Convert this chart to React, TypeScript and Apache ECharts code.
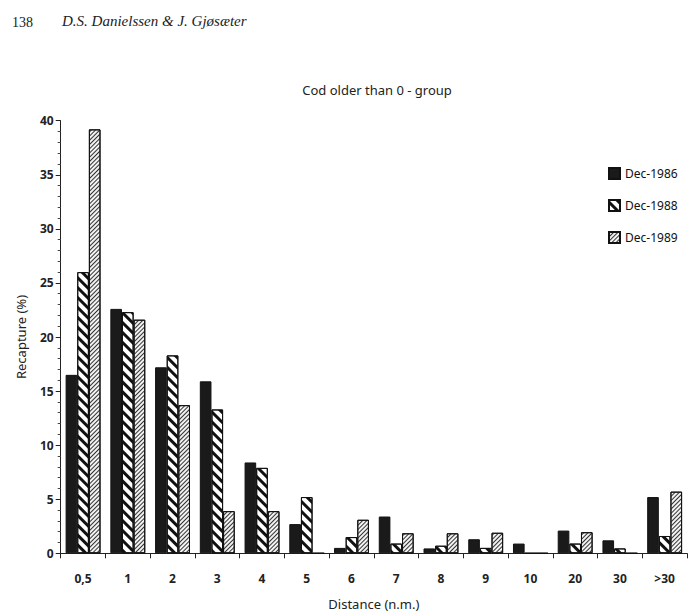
import React, { useEffect, useRef } from "react";
import * as echarts from "echarts";

const categories = ["0,5", "1", "2", "3", "4", "5", "6", "7", "8", "9", "10", "20", "30", ">30"];
const dec1986 = [16.5, 22.6, 17.2, 15.9, 8.4, 2.7, 0.5, 3.4, 0.45, 1.3, 0.9, 2.1, 1.2, 5.2];
const dec1988 = [26.0, 22.3, 18.3, 13.3, 7.9, 5.2, 1.5, 0.9, 0.7, 0.5, 0, 0.9, 0.45, 1.6];
const dec1989 = [39.2, 21.6, 13.7, 3.9, 3.9, 0, 3.1, 1.85, 1.85, 1.9, 0, 1.95, 0, 5.7];
const seriesNames = ["Dec-1986", "Dec-1988", "Dec-1989"];
const yTicks = { min: 0, max: 40, interval: 5 };

const FONT = "'Noto Sans', 'DejaVu Sans', sans-serif";

export default function App() {
  const ref = useRef<HTMLDivElement>(null);
  useEffect(() => {
    document.body.style.margin = "0";
    if (!ref.current) return;
    const chart = echarts.init(ref.current, null, { renderer: "svg" });
    const border = { borderColor: "#111", borderWidth: 1 };
    chart.setOption({
      animation: false,
      backgroundColor: "#fff",
      title: {
        text: "Cod older than 0 - group",
        left: 372,
        top: 78,
        textAlign: "center",
        textStyle: { fontFamily: FONT, fontSize: 13, fontWeight: "normal", color: "#222" },
      },
      graphic: [
        { type: "text", left: 12, top: 15, style: { text: "138", font: "14px 'Liberation Serif', serif", fill: "#222" } },
        { type: "text", left: 62, top: 13, style: { text: "D.S. Danielssen & J. Gjøsæter", font: "italic 15px 'Liberation Serif', serif", fill: "#222" } },
      ],
      legend: {
        orient: "vertical",
        left: 603,
        top: 162,
        icon: "rect",
        itemWidth: 11,
        itemHeight: 11,
        itemGap: 19,
        textStyle: { fontFamily: FONT, fontSize: 12, color: "#111" },
        data: seriesNames,
      },
      grid: { left: 60.7, right: 1, top: 120.7, bottom: 62.7 },
      xAxis: {
        type: "category",
        data: categories,
        name: "Distance (n.m.)",
        nameLocation: "middle",
        nameGap: 44,
        nameTextStyle: { fontFamily: FONT, fontSize: 13, color: "#222" },
        axisLine: { lineStyle: { color: "#222", width: 1 } },
        axisTick: { show: true, length: 5, lineStyle: { color: "#222" } },
        axisLabel: { margin: 19, fontFamily: FONT, fontSize: 12, fontWeight: "bold", color: "#222" },
      },
      yAxis: {
        type: "value",
        min: yTicks.min,
        max: yTicks.max,
        interval: yTicks.interval,
        name: "Recapture (%)",
        nameLocation: "middle",
        nameGap: 33,
        nameTextStyle: { fontFamily: FONT, fontSize: 13, color: "#222" },
        axisLine: { show: true, lineStyle: { color: "#222", width: 1 } },
        axisTick: { show: true, length: 5, lineStyle: { color: "#222" } },
        minorTick: { show: true, splitNumber: 5, length: 3, lineStyle: { color: "#444" } },
        splitLine: { show: false },
        axisLabel: { margin: 7, fontFamily: FONT, fontSize: 12, fontWeight: "bold", color: "#222" },
      },
      series: [
        {
          name: seriesNames[0],
          type: "bar",
          data: dec1986,
          barGap: "0%",
          barCategoryGap: "22%",
          itemStyle: { color: "#1a1a1a", ...border },
        },
        {
          name: seriesNames[1],
          type: "bar",
          data: dec1988,
          barGap: "0%",
          barCategoryGap: "22%",
          itemStyle: {
            color: "#fff",
            ...border,
            decal: {
              symbol: "rect",
              symbolSize: 1,
              color: "#111",
              dashArrayX: [1, 0],
              dashArrayY: [3, 4],
              rotation: Math.PI / 4,
            },
          },
        },
        {
          name: seriesNames[2],
          type: "bar",
          data: dec1989,
          barGap: "0%",
          barCategoryGap: "22%",
          itemStyle: {
            color: "#f2f2f2",
            ...border,
            decal: {
              symbol: "rect",
              symbolSize: 1,
              color: "#333",
              dashArrayX: [1, 0],
              dashArrayY: [1, 1.4],
              rotation: -Math.PI / 4,
            },
          },
        },
      ],
    });
    return () => chart.dispose();
  }, []);
  return <div ref={ref} style={{ width: 688, height: 616 }} />;
}
